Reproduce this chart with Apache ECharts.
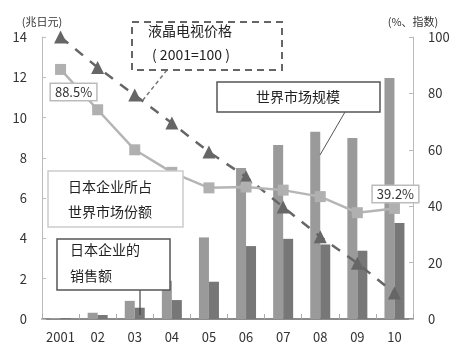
<!DOCTYPE html>
<html>
<head>
<meta charset="utf-8">
<script src="https://cdn.jsdelivr.net/npm/echarts@6/dist/echarts.min.js"></script>
<style>
  html, body { margin: 0; padding: 0; background: #fff; }
  #chart { width: 462px; height: 353px; }
</style>
</head>
<body>
<div id="chart"></div>
<script>
// 年份
const years = ['2001', '02', '03', '04', '05', '06', '07', '08', '09', '10'];
// 世界市场规模（兆日元）
const worldMarket = [0.05, 0.31, 0.9, 1.9, 4.05, 7.5, 8.64, 9.3, 8.98, 11.97];
// 日本企业的销售额（兆日元）
const japanSales = [0.05, 0.2, 0.56, 0.94, 1.85, 3.62, 3.98, 3.7, 3.39, 4.77];
// 液晶电视价格（2001=100）
const priceIndex = [100, 89.2, 79.4, 69.5, 59.2, 50.4, 39.7, 29.2, 19.8, 9.2];
// 日本企业所占世界市场份额（%）
const japanShare = [88.5, 74.2, 60, 52, 46.5, 46.8, 45.7, 43.4, 37.7, 39.2];
const leftTicks = [0, 14, 2];
const rightTicks = [0, 100, 20];

const FONT = '"Noto Sans CJK SC", "Open Sans", sans-serif';

const chartDom = document.getElementById('chart');
const myChart = echarts.init(chartDom);

const boxLabel = {
  show: true,
  formatter: p => p.value + '%',
  color: '#333',
  fontSize: 13,
  fontFamily: FONT,
  backgroundColor: '#fff',
  borderColor: '#bbb',
  borderWidth: 1.5,
  padding: [2, 4, 1, 4]
};

const option = {
  animation: false,
  textStyle: { fontFamily: FONT },
  grid: { left: 42, right: 49, top: 37, bottom: 34 },
  xAxis: {
    type: 'category',
    data: years,
    axisLine: { lineStyle: { color: '#666', width: 1.5 } },
    axisTick: { show: true, inside: true, length: 5, lineStyle: { color: '#aaa' } },
    axisLabel: { color: '#333', fontSize: 13, margin: 12, interval: 0, fontFamily: FONT }
  },
  yAxis: [
    {
      type: 'value',
      min: leftTicks[0],
      max: leftTicks[1],
      interval: leftTicks[2],
      name: '(兆日元)',
      nameGap: 10,
      nameTextStyle: { color: '#333', fontSize: 11, align: 'center' },
      axisLine: { show: true, lineStyle: { color: '#bbb' } },
      axisTick: { show: true, inside: true, length: 4, lineStyle: { color: '#bbb' } },
      axisLabel: { color: '#333', fontSize: 13, margin: 15 },
      splitLine: { show: false }
    },
    {
      type: 'value',
      min: rightTicks[0],
      max: rightTicks[1],
      interval: rightTicks[2],
      name: '(%、指数)',
      nameGap: 10,
      nameTextStyle: { color: '#333', fontSize: 11, align: 'center' },
      axisLine: { show: true, lineStyle: { color: '#bbb' } },
      axisTick: { show: true, inside: true, length: 4, lineStyle: { color: '#bbb' } },
      axisLabel: { color: '#333', fontSize: 13, margin: 15 },
      splitLine: { show: false }
    }
  ],
  series: [
    {
      name: '世界市场规模',
      type: 'bar',
      data: worldMarket,
      barWidth: 10,
      barGap: '0%',
      itemStyle: { color: '#9a9a9a' },
      z: 2
    },
    {
      name: '日本企业的销售额',
      type: 'bar',
      data: japanSales,
      barWidth: 10,
      itemStyle: { color: '#777' },
      z: 2
    },
    {
      name: '液晶电视价格',
      type: 'line',
      yAxisIndex: 1,
      data: priceIndex,
      symbol: 'triangle',
      symbolSize: 13,
      lineStyle: { color: '#666', width: 2.5, type: [10, 9] },
      itemStyle: { color: '#666' },
      z: 4
    },
    {
      name: '日本企业所占世界市场份额',
      type: 'line',
      yAxisIndex: 1,
      data: japanShare.map((v, i) => {
        if (i === 0) {
          return { value: v, label: Object.assign({}, boxLabel, { position: 'bottom', offset: [13, 4] }) };
        }
        if (i === japanShare.length - 1) {
          return { value: v, label: Object.assign({}, boxLabel, { position: 'top', offset: [1, 4] }) };
        }
        return v;
      }),
      symbol: 'rect',
      symbolSize: 11,
      lineStyle: { color: '#b5b5b5', width: 2.5 },
      itemStyle: { color: '#b0b0b0' },
      z: 5
    }
  ],
  graphic: [
    // 液晶电视价格
    {
      type: 'line',
      shape: { x1: 167, y1: 70, x2: 143, y2: 100 },
      style: { stroke: '#777', lineWidth: 1.5, lineDash: [4, 3] },
      z: 100
    },
    {
      type: 'rect',
      shape: { x: 132, y: 22, width: 150, height: 48 },
      style: { fill: '#fff', stroke: '#666', lineWidth: 2, lineDash: [7, 5] },
      z: 100
    },
    {
      type: 'text',
      left: 148, top: 24,
      style: { text: '液晶电视价格', font: '14px ' + FONT, fill: '#222' },
      z: 101
    },
    {
      type: 'text',
      left: 152, top: 48,
      style: { text: '( 2001=100 )', font: '14px ' + FONT, fill: '#222' },
      z: 101
    },
    // 世界市场规模
    {
      type: 'line',
      shape: { x1: 345, y1: 112, x2: 320, y2: 155 },
      style: { stroke: '#555', lineWidth: 1 },
      z: 100
    },
    {
      type: 'rect',
      shape: { x: 217, y: 82, width: 163, height: 30 },
      style: { fill: '#fff', stroke: '#555', lineWidth: 1.5 },
      z: 100
    },
    {
      type: 'text',
      x: 298, y: 97,
      style: { text: '世界市场规模', font: '14px ' + FONT, fill: '#222', align: 'center', verticalAlign: 'middle' },
      z: 101
    },
    // 日本企业所占世界市场份额
    {
      type: 'rect',
      shape: { x: 48, y: 171, width: 135, height: 56 },
      style: { fill: '#fff', stroke: '#ccc', lineWidth: 1.5 },
      z: 100
    },
    {
      type: 'text',
      left: 68, top: 180,
      style: { text: '日本企业所占', font: '14px ' + FONT, fill: '#222' },
      z: 101
    },
    {
      type: 'text',
      left: 68, top: 205,
      style: { text: '世界市场份额', font: '14px ' + FONT, fill: '#222' },
      z: 101
    },
    // 日本企业的销售额
    {
      type: 'line',
      shape: { x1: 140, y1: 290, x2: 140, y2: 315 },
      style: { stroke: '#444', lineWidth: 1.2 },
      z: 100
    },
    {
      type: 'rect',
      shape: { x: 57, y: 239, width: 113, height: 51 },
      style: { fill: '#fff', stroke: '#555', lineWidth: 1.5 },
      z: 100
    },
    {
      type: 'text',
      left: 70, top: 243,
      style: { text: '日本企业的', font: '14px ' + FONT, fill: '#222' },
      z: 101
    },
    {
      type: 'text',
      left: 70, top: 269,
      style: { text: '销售额', font: '14px ' + FONT, fill: '#222' },
      z: 101
    }
  ]
};

option && myChart.setOption(option);
</script>
</body>
</html>
